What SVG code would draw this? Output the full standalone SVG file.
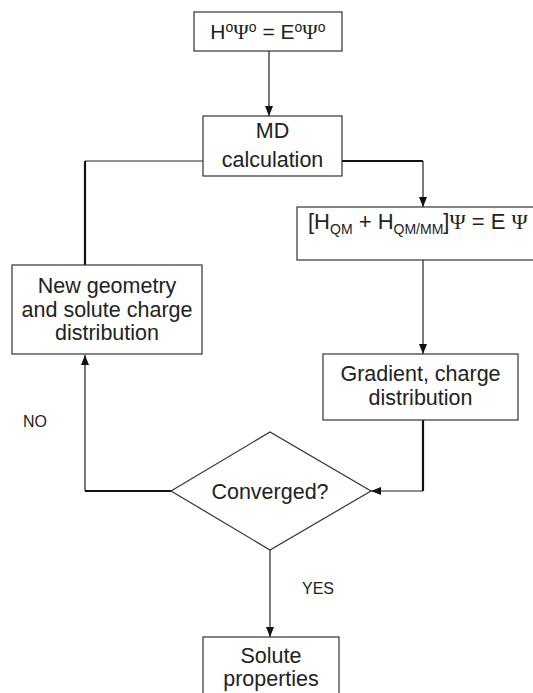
<svg xmlns="http://www.w3.org/2000/svg" width="533" height="693" viewBox="0 0 533 693">
<style>
.box{fill:#fff;stroke:#333;stroke-width:1.2}
.t{font-family:"Liberation Sans",Arial,sans-serif;font-size:21.5px;fill:#222;text-anchor:middle}
.lbl{font-family:"Liberation Sans",Arial,sans-serif;font-size:16px;fill:#222}
.c{fill:none;stroke:#222;stroke-width:1.2}
.ck{fill:none;stroke:#111;stroke-width:2.2}
</style>
<defs>
<marker id="ah" markerUnits="userSpaceOnUse" markerWidth="10" markerHeight="10" viewBox="0 0 10 10" refX="10" refY="5" orient="auto">
<path d="M0,1 L10,5 L0,9 Z" fill="#111"/>
</marker>
</defs>
<rect width="533" height="693" fill="#fff"/>
<g id="connectors">
<line class="c" x1="269" y1="51" x2="269" y2="116" marker-end="url(#ah)"/>
<polyline class="c" points="203,161 85,161"/>
<polyline class="ck" points="85,161 85,265"/>
<polyline class="ck" points="342,161 423,161"/>
<line class="c" x1="423" y1="161" x2="423" y2="207" marker-end="url(#ah)"/>
<line class="c" x1="423" y1="260" x2="423" y2="354" marker-end="url(#ah)"/>
<polyline class="ck" points="423,420 423,491"/>
<line class="c" x1="423" y1="491" x2="371" y2="491" marker-end="url(#ah)"/>
<polyline class="ck" points="171,491 85,491"/>
<line class="c" x1="85" y1="491" x2="85" y2="355" marker-end="url(#ah)"/>
<line class="c" x1="270" y1="550" x2="270" y2="637" marker-end="url(#ah)"/>
</g>
<g id="n-top">
<rect class="box" x="194" y="12" width="148" height="39"/>
<text class="t" x="268" y="39" style="font-size:21px">H<tspan font-size="14" dy="-7">o</tspan><tspan font-family="Liberation Serif" dy="7">Ψ</tspan><tspan font-size="14" dy="-7">o</tspan><tspan dy="7"> = E</tspan><tspan font-size="14" dy="-7">o</tspan><tspan font-family="Liberation Serif" dy="7">Ψ</tspan><tspan font-size="14" dy="-7">o</tspan></text>
</g>
<g id="n-md">
<rect class="box" x="203" y="116" width="139" height="60"/>
<text class="t" x="272.5" y="138">MD</text>
<text class="t" x="272.5" y="167">calculation</text>
</g>
<g id="n-qm">
<rect class="box" x="297" y="207" width="240" height="53"/>
<text class="t" x="308" y="229" style="text-anchor:start;font-size:22px">[H<tspan font-size="14" dy="5">QM</tspan><tspan dy="-5"> + H</tspan><tspan font-size="14" dy="5">QM/MM</tspan><tspan dy="-5">]</tspan><tspan font-family="Liberation Serif">Ψ</tspan> = E <tspan font-family="Liberation Serif">Ψ</tspan></text>
</g>
<g id="n-grad">
<rect class="box" x="323" y="354" width="195" height="66"/>
<text class="t" x="420.5" y="381">Gradient, charge</text>
<text class="t" x="420.5" y="405">distribution</text>
</g>
<g id="n-new">
<rect class="box" x="12" y="265" width="190" height="89"/>
<text class="t" x="107" y="293">New geometry</text>
<text class="t" x="107" y="317">and solute charge</text>
<text class="t" x="107" y="340">distribution</text>
</g>
<g id="n-conv">
<polygon class="box" points="171,491 270,432 371,491 270,550"/>
<text class="t" x="270" y="499">Converged?</text>
</g>
<g id="n-sol">
<rect class="box" x="203" y="637" width="136" height="70"/>
<text class="t" x="271" y="663">Solute</text>
<text class="t" x="271" y="686">properties</text>
</g>
<text class="lbl" x="23" y="427">NO</text>
<text class="lbl" x="302" y="594">YES</text>
</svg>
